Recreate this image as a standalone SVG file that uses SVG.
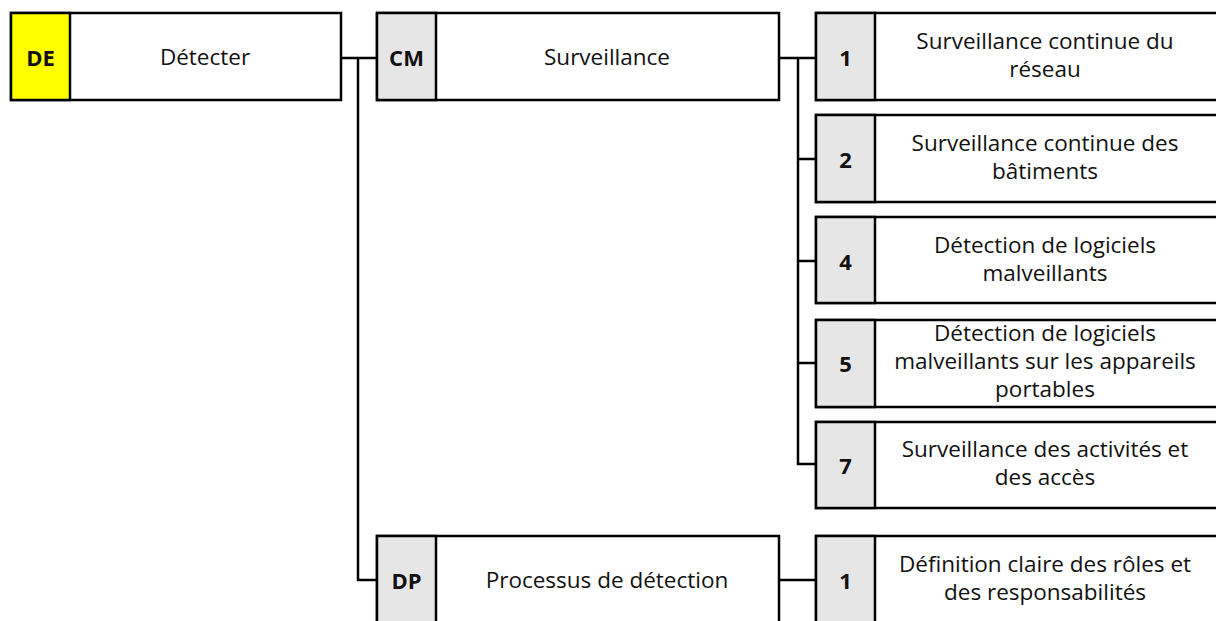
<svg xmlns="http://www.w3.org/2000/svg" width="1216" height="621" viewBox="0 0 1216 621">
<style>
.box{fill:#fff;stroke:#000;stroke-width:2.5}
.code{fill:#E6E6E6;stroke:#000;stroke-width:2.5}
.yel{fill:#FFFF00;stroke:#000;stroke-width:2.5}
.lbl{font-family:"Open Sans","Liberation Sans",sans-serif;font-size:22px;font-weight:bold;fill:#111;text-anchor:middle;dominant-baseline:central}
.t{font-family:"Open Sans","Liberation Sans",sans-serif;font-size:22.5px;fill:#111;text-anchor:middle}
.conn{fill:none;stroke:#000;stroke-width:2.5}
</style>
<rect width="1216" height="621" fill="#fff"/>
<g id="connectors">
<path class="conn" d="M341,58 H377 M358,58 V580 H377"/>
<path class="conn" d="M779,58 H816 M798,58 V464 H816 M798,159 H816 M798,261 H816 M798,363 H816"/>
<path class="conn" d="M779,580 H816"/>
</g>
<g id="DE">
<rect class="box" x="11" y="13" width="330" height="87"/>
<rect class="yel" x="11" y="13" width="59" height="87"/>
<text class="lbl" x="40.5" y="57">DE</text>
<text class="t" x="205" y="65">Détecter</text>
</g>
<g id="CM">
<rect class="box" x="377" y="13" width="402" height="87"/>
<rect class="code" x="377" y="13" width="59" height="87"/>
<text class="lbl" x="406.5" y="57">CM</text>
<text class="t" x="607" y="65">Surveillance</text>
</g>
<g id="DP">
<rect class="box" x="377" y="536" width="402" height="90"/>
<rect class="code" x="377" y="536" width="59" height="90"/>
<text class="lbl" x="406.5" y="580">DP</text>
<text class="t" x="607" y="588">Processus de détection</text>
</g>
<g id="CM1">
<rect class="box" x="816" y="13" width="402" height="87"/>
<rect class="code" x="816" y="13" width="59" height="87"/>
<text class="lbl" x="845.5" y="57">1</text>
<text class="t" x="1045" y="49">Surveillance continue du</text>
<text class="t" x="1045" y="77">réseau</text>
</g>
<g id="CM2">
<rect class="box" x="816" y="115" width="402" height="87"/>
<rect class="code" x="816" y="115" width="59" height="87"/>
<text class="lbl" x="845.5" y="159">2</text>
<text class="t" x="1045" y="151">Surveillance continue des</text>
<text class="t" x="1045" y="179">bâtiments</text>
</g>
<g id="CM4">
<rect class="box" x="816" y="217" width="402" height="86"/>
<rect class="code" x="816" y="217" width="59" height="86"/>
<text class="lbl" x="845.5" y="261">4</text>
<text class="t" x="1045" y="253">Détection de logiciels</text>
<text class="t" x="1045" y="281">malveillants</text>
</g>
<g id="CM5">
<rect class="box" x="816" y="320" width="402" height="87"/>
<rect class="code" x="816" y="320" width="59" height="87"/>
<text class="lbl" x="845.5" y="363">5</text>
<text class="t" x="1045" y="341">Détection de logiciels</text>
<text class="t" x="1045" y="369">malveillants sur les appareils</text>
<text class="t" x="1045" y="397">portables</text>
</g>
<g id="CM7">
<rect class="box" x="816" y="422" width="402" height="86"/>
<rect class="code" x="816" y="422" width="59" height="86"/>
<text class="lbl" x="845.5" y="465">7</text>
<text class="t" x="1045" y="457">Surveillance des activités et</text>
<text class="t" x="1045" y="485">des accès</text>
</g>
<g id="DP1">
<rect class="box" x="816" y="536" width="402" height="90"/>
<rect class="code" x="816" y="536" width="59" height="90"/>
<text class="lbl" x="845.5" y="580">1</text>
<text class="t" x="1045" y="572">Définition claire des rôles et</text>
<text class="t" x="1045" y="600">des responsabilités</text>
</g>
</svg>
